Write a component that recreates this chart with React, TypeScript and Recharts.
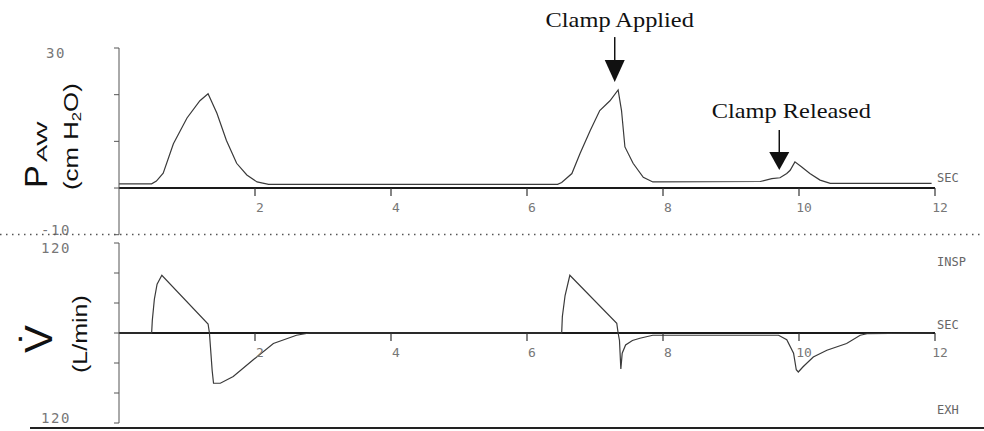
import React from 'react';
import { LineChart, Line, XAxis, YAxis, ReferenceLine, ReferenceDot } from 'recharts';

// ---- data (seconds / values) ----
const pressureTimes = [0, 0.48, 0.55, 0.65, 0.8, 1.0, 1.19, 1.31, 1.44, 1.58, 1.73, 1.88, 2.03, 2.2, 6.45, 6.51, 6.66, 6.78, 6.93, 7.07, 7.22, 7.34, 7.39, 7.44, 7.56, 7.71, 7.85, 9.43, 9.6, 9.72, 9.82, 9.87, 9.94, 10.04, 10.16, 10.31, 10.46, 11.95];
const pressureValues = [0.9, 0.9, 1.5, 3.2, 9.5, 15, 18.7, 20.2, 16, 10.2, 5.3, 2.8, 1.3, 0.8, 0.8, 1.2, 3.1, 7.4, 12.3, 16.6, 18.7, 21, 16.6, 8.8, 5.3, 2.3, 1.3, 1.4, 2.0, 2.2, 3.1, 3.8, 5.6, 4.5, 3.1, 1.7, 1.0, 1.0];

const flowTimes = [0, 0.48, 0.49, 0.52, 0.56, 0.63, 1.31, 1.33, 1.37, 1.39, 1.49, 1.68, 1.97, 2.27, 2.61, 2.8, 6.51, 6.52, 6.56, 6.63, 7.32, 7.34, 7.36, 7.38, 7.4, 7.45, 7.55, 7.66, 7.85, 9.7, 9.82, 9.92, 9.96, 9.99, 10.06, 10.21, 10.41, 10.7, 10.9, 11.0, 11.97];
const flowValues = [0, 0, 17, 45, 65, 77, 12, 0, -50, -67, -67, -58, -36, -14, -3, 0, 0, 22, 50, 77, 13, 0, -10, -48, -27, -16, -10, -7, -3, -3, -9, -27, -49, -52, -45, -32, -23, -14, -3, -1, 0];

const timeTicks = [2, 4, 6, 8, 10, 12];
const pressureTicks = [-10, 0, 10, 20, 30];
const flowTicks = [-120, -80, -40, 0, 40, 80, 120];
const pressureDomain = [-10, 30];
const flowDomain = [-120, 120];

const annotations = [
  { label: 'Clamp Applied', t: 7.29, p: 22.7, shaft: 45, head: 22, textUp: 55, textDx: 5 },
  { label: 'Clamp Released', t: 9.71, p: 3.86, shaft: 40, head: 18, textUp: 52, textDx: 12 },
];

const pressureData = pressureTimes.map((t, i) => ({ t, v: pressureValues[i] }));
const flowData = flowTimes.map((t, i) => ({ t, v: flowValues[i] }));

const MONO = '"DejaVu Sans Mono", monospace';
const SANS = '"Liberation Sans", Arial, sans-serif';
const SERIF = '"Liberation Serif", "Times New Roman", serif';

// layout
const TOP_H = 240;
const TOP_MARGIN = { top: 48, right: 49, bottom: 0, left: 0 };
const TOP_XH = 5.3;
const BOT_H = 195;
const BOT_MARGIN = { top: 7, right: 49, bottom: 0, left: 0 };
const BOT_XH = 8;

const plotH = (h: number, m: any, xh: number) => h - m.top - m.bottom - xh;
const zeroShift = (h: number, m: any, xh: number, dom: number[]) =>
  plotH(h, m, xh) * (0 - dom[0]) / (dom[1] - dom[0]);

const makeXTick = (shift: number) => (props: any) => {
  const { x, y, payload } = props;
  const y0 = y - shift;
  return (
    <g>
      <line x1={x} y1={y0} x2={x} y2={y0 + 8} stroke="#333" strokeWidth={1.2} />
      <text x={x + 5} y={y0 + 19} textAnchor="middle" dominantBaseline="central" fontFamily={MONO} fontSize={13} fill="#777">
        {payload.value}
      </text>
    </g>
  );
};

const makeYTick = (dom: number[], labels: Record<string, string>) => (props: any) => {
  const { x, y, payload } = props;
  const key = String(payload.value);
  if (!(key in labels)) return <g />;
  const dy = payload.value === dom[1] ? 5 : -5;
  return (
    <text x={x - 58} y={y + dy} textAnchor="middle" dominantBaseline="central" fontFamily={MONO} fontSize={14} fill="#777" letterSpacing={1.5}>
      {labels[key]}
    </text>
  );
};

const makeArrow = (a: any) => (props: any) => {
  const { cx, cy } = props;
  return (
    <g>
      <line x1={cx} y1={cy - a.shaft} x2={cx} y2={cy - a.head} stroke="#111" strokeWidth={1.5} />
      <polygon points={`${cx - 10},${cy - a.head} ${cx + 10},${cy - a.head} ${cx},${cy}`} fill="#111" />
      <text x={cx + a.textDx} y={cy - a.textUp} textAnchor="middle" fontFamily={SERIF} fontSize={20} fill="#111"
        transform={`translate(${cx + a.textDx},0) scale(1.22,1) translate(${-(cx + a.textDx)},0)`}>
        {a.label}
      </text>
    </g>
  );
};

export default function App() {
  const topShift = zeroShift(TOP_H, TOP_MARGIN, TOP_XH, pressureDomain);
  const botShift = zeroShift(BOT_H, BOT_MARGIN, BOT_XH, flowDomain);
  return (
    <div style={{ position: 'absolute', left: 0, top: 0, width: 984, height: 431, background: '#fff', overflow: 'hidden' }}>
      <div style={{ position: 'absolute', left: 0, top: 0 }}>
        <LineChart width={984} height={TOP_H} data={pressureData} margin={TOP_MARGIN}>
          <XAxis dataKey="t" type="number" domain={[0, 12]} ticks={timeTicks} interval={0} height={TOP_XH}
            axisLine={false} tickLine={false} tickSize={0} tickMargin={0} tick={makeXTick(topShift)} />
          <YAxis type="number" domain={pressureDomain} ticks={pressureTicks} interval={0} width={119}
            axisLine={{ stroke: '#555', strokeWidth: 1 }} tickLine={{ stroke: '#555' }} tickSize={5} tickMargin={0}
            allowDataOverflow tick={makeYTick(pressureDomain, { '30': '30', '-10': '-10' })} />
          <ReferenceLine y={0} stroke="#1a1a1a" strokeWidth={2} />
          <Line dataKey="v" type="linear" stroke="#3a3a3a" strokeWidth={1.2} dot={false} isAnimationActive={false} />
          {annotations.map((a) => (
            <ReferenceDot key={a.label} x={a.t} y={a.p} r={1} ifOverflow="visible" shape={makeArrow(a)} />
          ))}
        </LineChart>
      </div>
      <div style={{ position: 'absolute', left: 0, top: 236 }}>
        <LineChart width={984} height={BOT_H} data={flowData} margin={BOT_MARGIN}>
          <XAxis dataKey="t" type="number" domain={[0, 12]} ticks={timeTicks} interval={0} height={BOT_XH}
            axisLine={false} tickLine={false} tickSize={0} tickMargin={0} tick={makeXTick(botShift)} />
          <YAxis type="number" domain={flowDomain} ticks={flowTicks} interval={0} width={119}
            axisLine={{ stroke: '#555', strokeWidth: 1 }} tickLine={{ stroke: '#555' }} tickSize={5} tickMargin={0}
            allowDataOverflow tick={makeYTick(flowDomain, { '120': '120', '-120': '120' })} />
          <ReferenceLine y={0} stroke="#1a1a1a" strokeWidth={2} />
          <Line dataKey="v" type="linear" stroke="#3a3a3a" strokeWidth={1.2} dot={false} isAnimationActive={false} />
        </LineChart>
      </div>
      <svg width={984} height={431} style={{ position: 'absolute', left: 0, top: 0, pointerEvents: 'none' }}>
        <line x1={0} y1={234.5} x2={984} y2={234.5} stroke="#555" strokeWidth={1.5} strokeDasharray="1.5 4.5" />
        <line x1={30} y1={428} x2={984} y2={428} stroke="#222" strokeWidth={2} />
        {/* pressure label */}
        <text transform="translate(47,188) rotate(-90) scale(1.1,1)" fontFamily={SANS} fontSize={31} fill="#111">P</text>
        <text transform="translate(47,162) rotate(-90) scale(1.85,1)" fontFamily={SANS} fontSize={14} fill="#111">AW</text>
        <text transform="translate(78,190) rotate(-90) scale(1.29,1)" fontFamily={SANS} fontSize={20} fill="#111">
          (cm H<tspan fontSize={13} dy={3}>2</tspan><tspan dy={-3}>O)</tspan>
        </text>
        {/* flow label */}
        <text transform="translate(52,353) rotate(-90) scale(1.1,1)" fontFamily={SANS} fontSize={38} fill="#111">{'V\u0307'}</text>
        <text transform="translate(87,373) rotate(-90) scale(1.25,1)" fontFamily={SANS} fontSize={20} fill="#111">(L/min)</text>
        {/* right side labels */}
        <text x={937} y={178} dominantBaseline="central" fontFamily={MONO} fontSize={12} fill="#666">SEC</text>
        <text x={937} y={262} dominantBaseline="central" fontFamily={MONO} fontSize={12} fill="#666">INSP</text>
        <text x={937} y={325} dominantBaseline="central" fontFamily={MONO} fontSize={12} fill="#666">SEC</text>
        <text x={937} y={410} dominantBaseline="central" fontFamily={MONO} fontSize={12} fill="#666">EXH</text>
      </svg>
    </div>
  );
}
